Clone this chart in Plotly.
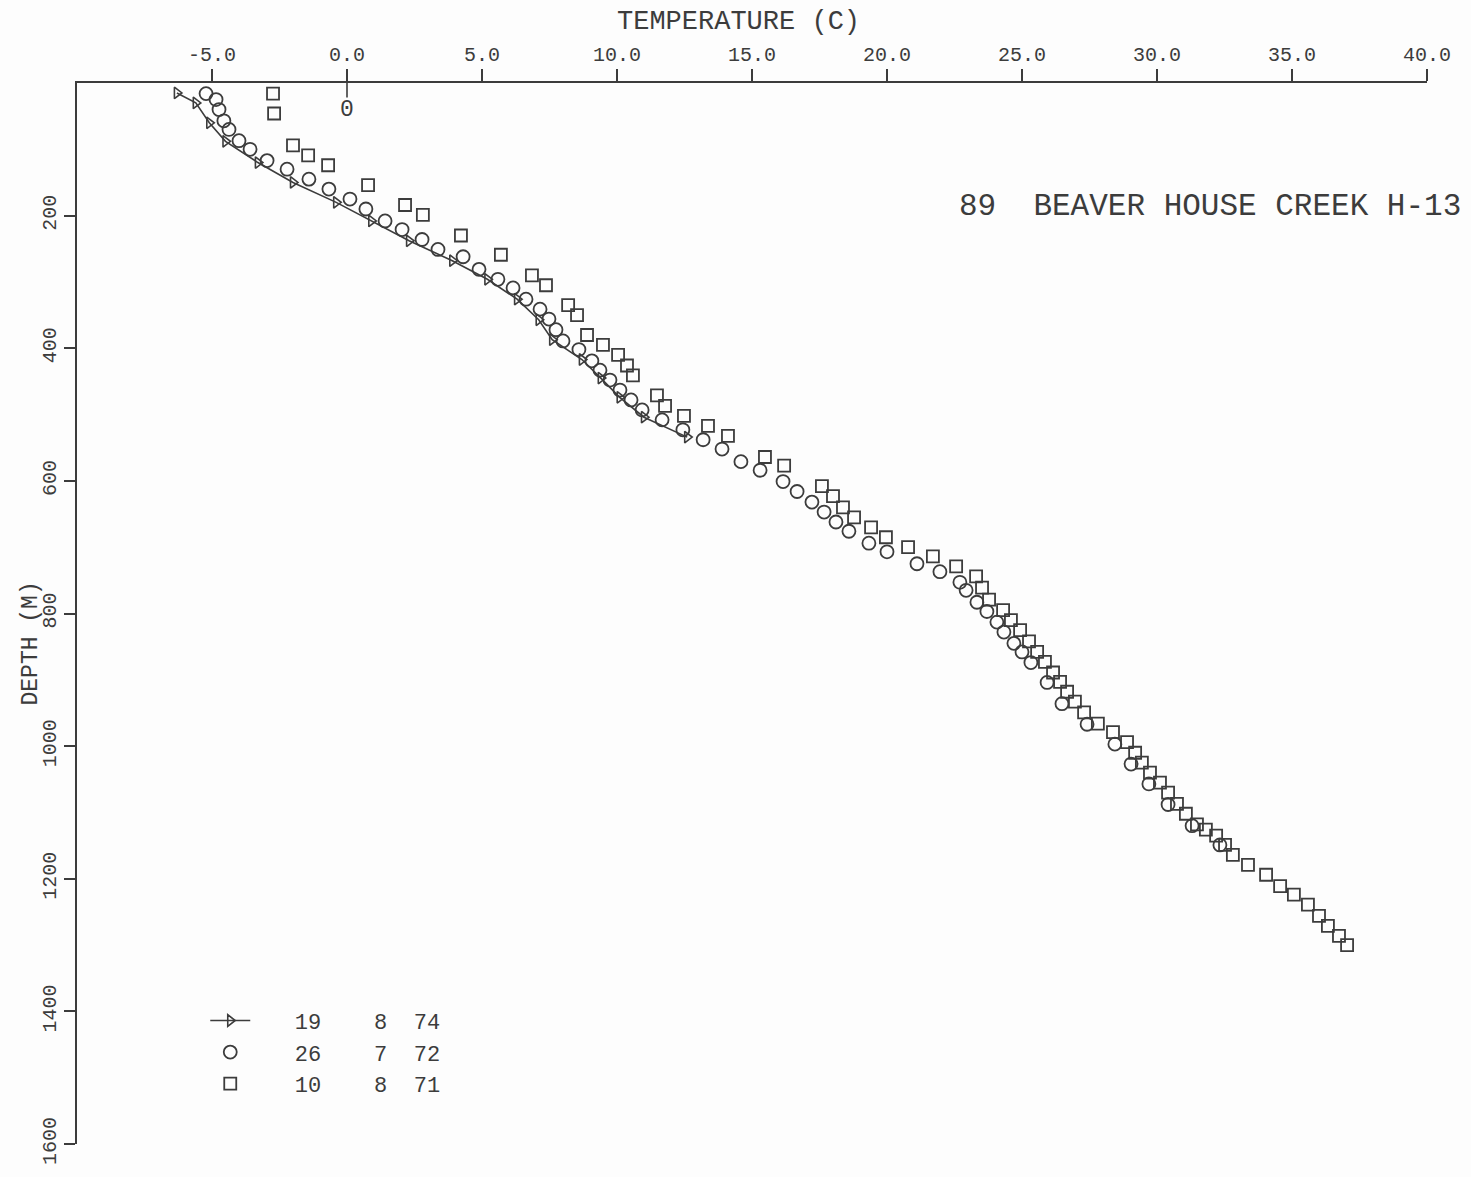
import plotly.graph_objects as go

# ---- data ----
# Series "19 8 74" (line with arrow markers)
t_1974 = [-6.3, -5.6, -5.1, -4.5, -3.3, -2.0, -0.4, 0.9, 2.3, 3.9, 5.2, 6.3, 7.1, 7.6, 8.7, 9.4, 10.1, 11.0, 12.6]
d_1974 = [15, 30, 60, 88, 120, 150, 180, 208, 238, 268, 296, 326, 357, 387, 417, 445, 474, 504, 534]

# Series "26 7 72" (circles)
t_1972 = [-5.22, -4.85, -4.74, -4.56, -4.37, -4.0, -3.59, -2.96, -2.22, -1.41, -0.67, 0.11, 0.70, 1.41, 2.04,
          2.78, 3.37, 4.30, 4.89, 5.59, 6.15, 6.63, 7.15, 7.48, 7.74, 8.0, 8.59, 9.07, 9.37, 9.74, 10.11,
          10.52, 10.93, 11.67, 12.44, 13.19, 13.89, 14.59, 15.30, 16.15, 16.67, 17.22, 17.67, 18.11, 18.59,
          19.33, 20.0, 21.11, 21.96, 22.70, 22.93, 23.33, 23.70, 24.07, 24.33, 24.70, 25.0, 25.33, 25.93,
          26.48, 27.41, 28.44, 29.04, 29.70, 30.41, 31.30, 32.33]
d_1972 = [16, 25, 40, 57, 70, 87, 100, 117, 130, 145, 160, 175, 190, 208, 221,
          236, 251, 262, 281, 296, 309, 326, 341, 356, 372, 389, 402, 419, 433, 448, 463,
          478, 493, 508, 523, 538, 552, 571, 584, 601, 616, 632, 647, 662, 676,
          694, 707, 725, 737, 753, 765, 783, 797, 813, 828, 845, 858, 874, 904,
          936, 967, 997, 1027, 1057, 1088, 1120, 1149]

# Series "10 8 71" (squares)
t_1971 = [-2.74, -2.70, -2.0, -1.44, -0.70, 0.78, 2.15, 2.81, 4.22, 5.70, 6.85, 7.37, 8.19, 8.52, 8.89,
          9.48, 10.04, 10.37, 10.59, 11.48, 11.78, 12.48, 13.37, 14.11, 15.48, 16.19, 17.59, 18.0, 18.37,
          18.78, 19.41, 19.96, 20.78, 21.70, 22.56, 23.30, 23.52, 23.78, 24.30, 24.59, 24.93, 25.26, 25.56,
          25.85, 26.15, 26.41, 26.67, 26.96, 27.30, 27.81, 28.37, 28.89, 29.19, 29.44, 29.74, 30.11, 30.41,
          30.74, 31.07, 31.48, 31.81, 32.19, 32.52, 32.81, 33.37, 34.04, 34.56, 35.07, 35.59, 36.0, 36.33,
          36.74, 37.04]
d_1971 = [16, 46, 94, 109, 124, 154, 184, 199, 230, 259, 290, 305, 335, 350, 380,
          395, 410, 426, 441, 471, 487, 502, 517, 532, 564, 577, 608, 623, 640,
          655, 670, 685, 700, 714, 729, 744, 761, 779, 795, 810, 825, 842, 858,
          873, 889, 903, 918, 933, 949, 966, 979, 994, 1010, 1025, 1040, 1055, 1070,
          1087, 1102, 1118, 1126, 1135, 1149, 1164, 1179, 1194, 1211, 1224, 1239, 1256, 1271,
          1286, 1300]

series_names = ["   19    8  74", "   26    7  72", "   10    8  71"]

x_ticks = [-5, 0, 5, 10, 15, 20, 25, 30, 35, 40]
x_ticktext = ["-5.0", "0.0", "5.0", "10.0", "15.0", "20.0", "25.0", "30.0", "35.0", "40.0"]
y_ticks = [200, 400, 600, 800, 1000, 1200, 1400, 1600]

title_text = "89  BEAVER HOUSE CREEK H-13"

INK = "#3c3c3c"
FONT = "Liberation Mono"

fig = go.Figure()

fig.add_trace(go.Scatter(
    x=t_1974, y=d_1974, name=series_names[0], mode="lines+markers",
    line=dict(color=INK, width=1.6),
    marker=dict(symbol="triangle-right-open", size=10, color=INK, line=dict(width=1.6, color=INK)),
))
fig.add_trace(go.Scatter(
    x=t_1972, y=d_1972, name=series_names[1], mode="markers",
    marker=dict(symbol="circle-open", size=13, color=INK, line=dict(width=1.8, color=INK)),
))
fig.add_trace(go.Scatter(
    x=t_1971, y=d_1971, name=series_names[2], mode="markers",
    marker=dict(symbol="square-open", size=12, color=INK, line=dict(width=1.8, color=INK)),
))

# zero-degree marker below the top axis
fig.add_shape(type="line", x0=0, x1=0, y0=0, y1=22, xref="x", yref="y",
              line=dict(color=INK, width=1.6))
fig.add_annotation(x=0, y=40, xref="x", yref="y", text="0", showarrow=False,
                   font=dict(family=FONT, size=23, color=INK))

# well title
fig.add_annotation(x=0.652, y=0.884, xref="paper", yref="paper", xanchor="left", yanchor="middle",
                   text=title_text, showarrow=False,
                   font=dict(family=FONT, size=31, color=INK))

# axis titles
fig.add_annotation(x=0.49, y=1.0, xref="paper", yref="paper", yshift=61, xanchor="center", yanchor="middle",
                   text="TEMPERATURE (C)", showarrow=False,
                   font=dict(family=FONT, size=27, color=INK))
fig.add_annotation(x=0.0, y=0.5, xref="paper", yref="paper", xshift=-47, yshift=-30,
                   xanchor="center", yanchor="middle", textangle=-90,
                   text="DEPTH (M)", showarrow=False,
                   font=dict(family=FONT, size=23, color=INK))

fig.update_xaxes(
    side="top", range=[-10, 40], showgrid=False, zeroline=False,
    showline=True, linecolor=INK, linewidth=1.6,
    ticks="outside", ticklen=12, tickwidth=1.5, tickcolor=INK,
    tickvals=x_ticks, ticktext=x_ticktext,
    tickfont=dict(family=FONT, size=20, color=INK),
)
fig.update_yaxes(
    range=[1600, 0], showgrid=False, zeroline=False,
    showline=True, linecolor=INK, linewidth=1.6,
    ticks="outside", ticklen=11, tickwidth=1.5, tickcolor=INK,
    tickvals=y_ticks, tickangle=-90,
    tickfont=dict(family=FONT, size=20, color=INK),
)

fig.update_layout(
    width=1471, height=1177,
    margin=dict(l=77, r=44, t=83, b=24),
    paper_bgcolor="#fdfdfd", plot_bgcolor="#fdfdfd",
    showlegend=True,
    legend=dict(x=0.095, y=0.136, xanchor="left", yanchor="top",
                bgcolor="rgba(0,0,0,0)", tracegroupgap=0, itemwidth=40,
                font=dict(family=FONT, size=22, color=INK)),
)

fig.write_html("out.html")
